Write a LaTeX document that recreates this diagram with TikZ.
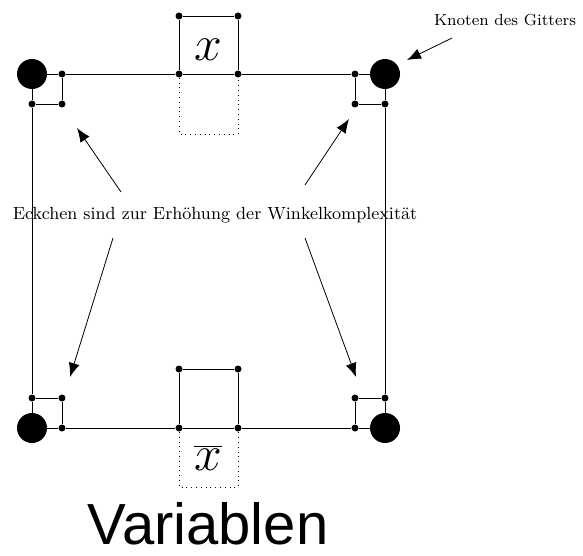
\documentclass[tikz,border=0pt]{standalone}
\usepackage{fontspec}
\usepackage{tikz}
\usetikzlibrary{arrows.meta, positioning, calc}
\newfontfamily\helv{Liberation Sans}

\begin{document}
\begin{tikzpicture}[x=0.5pt, y=-0.5pt,
    knoten/.style={circle, fill=black, inner sep=0pt, minimum size=15pt},
    punkt/.style={circle, fill=black, inner sep=0pt, minimum size=3.5pt},
    kante/.style={thin},
    halb/.style={thin, dotted},
    pfeil/.style={-{Latex[length=7pt, width=5.5pt]}, thin}
]
    \useasboundingbox (0,0) rectangle (583,556);
    % Ecken des Gadgets
    \node[knoten] (tl) at (32,74) {};
    \node[knoten] (tr) at (385,74) {};
    \node[knoten] (bl) at (32,428) {};
    \node[knoten] (br) at (385,428) {};
    % Eckchen
    \node[punkt] (tla) at (62,74) {};
    \node[punkt] (tlb) at (62,104) {};
    \node[punkt] (tlc) at (32,104) {};
    \node[punkt] (tra) at (355,74) {};
    \node[punkt] (trb) at (355,104) {};
    \node[punkt] (trc) at (385,104) {};
    \node[punkt] (bla) at (32,398) {};
    \node[punkt] (blb) at (62,398) {};
    \node[punkt] (blc) at (62,428) {};
    \node[punkt] (bra) at (385,398) {};
    \node[punkt] (brb) at (355,398) {};
    \node[punkt] (brc) at (355,428) {};
    % Variable x oben, negiert unten
    \node[punkt] (xa) at (179,74) {};
    \node[punkt] (xb) at (179,16) {};
    \node[punkt] (xc) at (238,16) {};
    \node[punkt] (xd) at (238,74) {};
    \coordinate (xe) at (179,134);
    \coordinate (xf) at (238,134);
    \node[punkt] (na) at (179,428) {};
    \node[punkt] (nb) at (179,369) {};
    \node[punkt] (nc) at (238,369) {};
    \node[punkt] (nd) at (238,428) {};
    \coordinate (ne) at (179,487);
    \coordinate (nf) at (238,487);
    \node (xlab) at (208,50) {\Huge $x$};
    \node (nlab) at (208,458) {\Huge $\overline{x}$};

    \draw[kante] (tl) -- (tla) -- (tlb) -- (tlc) -- (tl);
    \draw[kante] (tr) -- (tra) -- (trb) -- (trc) -- (tr);
    \draw[kante] (bl) -- (bla) -- (blb) -- (blc) -- (bl);
    \draw[kante] (br) -- (bra) -- (brb) -- (brc) -- (br);
    \draw[kante] (tla) -- (xa) -- (xd) -- (tra);
    \draw[kante] (blc) -- (na) -- (nd) -- (brc);
    \draw[kante] (tlc) -- (bla);
    \draw[kante] (trc) -- (bra);
    \draw[kante] (xa) -- (xb) -- (xc) -- (xd);
    \draw[kante] (na) -- (nb) -- (nc) -- (nd);
    \draw[halb] (xa) -- (xe) -- (xf) -- (xd);
    \draw[halb] (na) -- (ne) -- (nf) -- (nd);

    % Beschriftungen
    \node[font=\footnotesize] (gitter) at (505,20) {Knoten des Gitters};
    \coordinate (g1) at (452,38);
    \coordinate (g2) at (407,60);
    \draw[pfeil] (g1) -- (g2);

    \node[font=\fontsize{8.8}{10}\selectfont] (eck) at (215,215) {Eckchen sind zur Erhöhung der Winkelkomplexität};
    \coordinate (e1) at (121,192);
    \coordinate (e2) at (305,185);
    \coordinate (e3) at (113,238);
    \coordinate (e4) at (305,238);
    \coordinate (p1) at (77,128);
    \coordinate (p2) at (349,119);
    \coordinate (p3) at (70,377);
    \coordinate (p4) at (356,377);
    \draw[pfeil] (e1) -- (p1);
    \draw[pfeil] (e2) -- (p2);
    \draw[pfeil] (e3) -- (p3);
    \draw[pfeil] (e4) -- (p4);

    \node[font=\helv\fontsize{29}{33}\selectfont] (titel) at (208,524) {Variablen};
\end{tikzpicture}
\end{document}
